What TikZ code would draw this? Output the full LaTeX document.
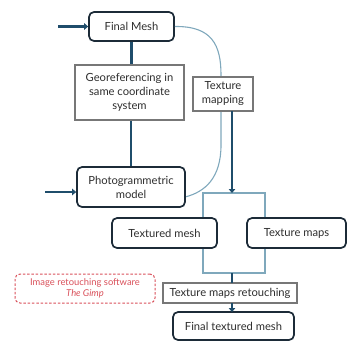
\documentclass[tikz,border=0pt]{standalone}
\usepackage{fontspec}
\setmainfont{Lato}[ItalicFont={Lato Italic}]
\usetikzlibrary{arrows.meta}
\definecolor{navy}{HTML}{1C2B38}
\definecolor{thick}{HTML}{1F4D6B}
\definecolor{lblue}{HTML}{7FA8BC}
\definecolor{gbox}{HTML}{777777}
\definecolor{redd}{HTML}{D9505A}
\begin{document}
\begin{tikzpicture}[x=1pt,y=-1pt,
  rbox/.style={draw=navy,line width=1.7pt,rounded corners=5pt,fill=white,inner sep=0pt,align=center,font=\fontsize{11.2}{14}\selectfont,text=black!82},
  sbox/.style={draw=gbox,line width=1.2pt,fill=white,inner sep=0pt,align=center,font=\fontsize{11.2}{14}\selectfont,text=black!82},
  thk/.style={draw=thick,line width=2.8pt},
  thkarr/.style={thk,-{Triangle[length=4pt,width=6.5pt]}},
  thin/.style={draw=lblue,line width=1.1pt}]
\useasboundingbox (0,0) rectangle (347,341);
% light blue rectangle
\draw[thin] (203,193) rectangle (265,273);
% curve
\coordinate (cend) at (185,197);
\node[rbox,minimum width=85pt,minimum height=29pt] (fm) at (131.5,26.5) {Final Mesh};
\draw[thin] (fm.east) .. controls (212,26) and (221,45) .. (221,75) -- (221,145) .. controls (221,178) and (205,192) .. (cend);
\node[sbox,minimum width=109pt,minimum height=55pt] (geo) at (129.5,92.5) {Georeferencing in\\same coordinate\\system};
\node[sbox,minimum width=60pt,minimum height=34pt] (tm) at (223,94) {Texture\\mapping};
\node[rbox,minimum width=108pt,minimum height=40pt] (pm) at (131,187) {Photogrammetric\\model};
\node[rbox,minimum width=105pt,minimum height=30pt] (tme) at (164.5,233) {Textured mesh};
\node[rbox,minimum width=99pt,minimum height=30pt] (tmap) at (296.5,233) {Texture maps};
\node[sbox,minimum width=134pt,minimum height=20pt] (ret) at (230,293) {Texture maps retouching};
\node[rbox,minimum width=121pt,minimum height=28pt] (ftm) at (233.5,326) {Final textured mesh};
\node[draw=redd,line width=1pt,dash pattern=on 2.5pt off 1.8pt,rounded corners=5pt,minimum width=140pt,minimum height=29pt,inner sep=0pt,align=center,text=redd,font=\fontsize{9.4}{11.5}\selectfont] (red) at (85,288.5) {Image retouching software\\\textit{The Gimp}};
% coordinates
\coordinate (in1) at (58,26.5);
\coordinate (in2) at (45,192);
\coordinate (tmb) at (232,111);
\coordinate (lbt) at (232,193);
\coordinate (lbb) at (232,273);
\coordinate (rett) at (232,283);
\coordinate (retb) at (232,303);
\coordinate (ftmt) at (232,312);
% connectors
\draw[thkarr] (in1) -- (fm.west);
\draw[thkarr] (in2) -- (in2 -| pm.west);
\draw[thk] (fm.south) -- (geo.north -| fm.south);
\draw[thk] (geo.south -| pm.north) -- (pm.north);
\draw[thkarr] (tmb) -- (lbt);
\draw[thk] (lbb) -- (rett);
\draw[thkarr] (retb) -- (ftmt);
\end{tikzpicture}
\end{document}
